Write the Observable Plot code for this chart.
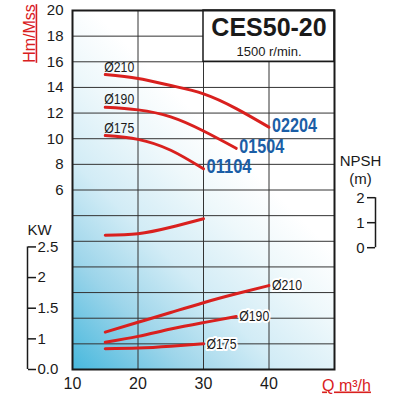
<!DOCTYPE html>
<html>
<head>
<meta charset="utf-8">
<script src="https://cdn.jsdelivr.net/npm/d3@7"></script>
<script src="https://cdn.jsdelivr.net/npm/@observablehq/plot@0.6"></script>
<style>
  body { margin: 0; background: white; }
</style>
</head>
<body>
<div id="chart"></div>
<script>
// flow Q (m3/h)
const qTicks = [10, 20, 30, 40]
const qGrid = [20, 30, 40]
// head H (m)
const headTicks = [6, 8, 10, 12, 14, 16, 18, 20]
const headGrid = [-8, -6, -4, -2, 0, 2, 4, 6, 8, 10, 12, 14, 16, 18, 20]
// power and NPSH axes
const kwTicks = [0.5, 1, 1.5, 2, 2.5]
const kwTickLabels = ["0.0", "1", "1.5", "2", "2.5"]
const npshTicks = [0, 1, 2]
const npshTickLabels = ["0", "1", "2"]

// impellers
const diameters = ["Ø210", "Ø190", "Ø175"]
const models = ["02204", "01504", "01104"]
const q210 = [15, 20, 25, 30, 35, 40]
const q190 = [15, 20, 25, 30, 35]
const q175 = [15, 20, 25, 30]
const head210 = [15.0, 14.7, 14.15, 13.5, 12.35, 10.9]
const head190 = [12.45, 12.25, 11.7, 10.6, 9.25]
const head175 = [10.25, 9.95, 9.1, 7.65]
const kw210 = [1.11, 1.27, 1.43, 1.59, 1.735, 1.87]
const kw190 = [0.945, 1.04, 1.16, 1.265, 1.365]
const kw175 = [0.84, 0.85, 0.88, 0.92]
const qNpsh = [15, 20, 25, 30]
const npsh = [0.5, 0.56, 0.82, 1.16]

// kW and NPSH are drawn on the head scale
const kwToHead = v => -8 + (v - 0.5) * 4.78
const npshToHead = v => 1.5 + v * 1.95

const curves = [
  {d: diameters[0], m: models[0], q: q210, head: head210, kw: kw210},
  {d: diameters[1], m: models[1], q: q190, head: head190, kw: kw190},
  {d: diameters[2], m: models[2], q: q175, head: head175, kw: kw175}
]
const headRows = curves.flatMap(c => c.q.map((q, i) => ({d: c.d, q, y: c.head[i]})))
const kwRows = curves.flatMap(c => c.q.map((q, i) => ({d: c.d, q, y: kwToHead(c.kw[i])})))
const npshRows = qNpsh.map((q, i) => ({q, y: npshToHead(npsh[i])}))
const headStarts = curves.map(c => ({d: c.d, q: c.q[0], y: c.head[0]}))
const headEnds = curves.map(c => ({m: c.m, q: c.q[c.q.length - 1], y: c.head[c.head.length - 1]}))
const kwEnds = curves.map(c => ({d: c.d, q: c.q[c.q.length - 1], y: kwToHead(c.kw[c.kw.length - 1])}))

const kwLabelAt = new Map(kwTicks.map((t, i) => [kwToHead(t), kwTickLabels[i]]))
const npshLabelAt = new Map(npshTicks.map((t, i) => [npshToHead(t), npshTickLabels[i]]))

const red = "#d9201e"
const blue = "#1b5ea6"
const ink = "#1a1a1a"

let chart = Plot.plot({
  width: 400,
  height: 400,
  marginLeft: 72,
  marginRight: 66,
  marginTop: 10,
  marginBottom: 31,
  x: {domain: [10, 50]},
  y: {domain: [-8, 20]},
  style: {
    fontFamily: "'Liberation Sans', Arial, sans-serif",
    fontSize: "14px",
    color: ink,
    background: "white"
  },
  marks: [
    Plot.frame({fill: "url(#bg)"}),
    Plot.gridX(qGrid, {stroke: "#333", strokeOpacity: 1}),
    Plot.gridY(headGrid, {stroke: "#333", strokeOpacity: 1}),
    Plot.rect([0], {x1: 30, x2: 50, y1: 16, y2: 20, fill: "white", stroke: ink, strokeWidth: 1.5}),
    Plot.text(["CES50-20"], {x: 40, frameAnchor: "top", dy: 25, textAnchor: "middle", lineAnchor: "bottom", fontSize: 25, fontWeight: "bold"}),
    Plot.text(["1500 r/min."], {x: 40, frameAnchor: "top", dy: 45, textAnchor: "middle", lineAnchor: "bottom", fontSize: 13}),

    // curves
    Plot.line(headRows, {x: "q", y: "y", z: "d", stroke: red, strokeWidth: 3, curve: "natural"}),
    Plot.line(npshRows, {x: "q", y: "y", stroke: red, strokeWidth: 3, curve: "natural"}),
    Plot.line(kwRows, {x: "q", y: "y", z: "d", stroke: red, strokeWidth: 3, curve: "natural"}),

    // curve labels
    Plot.text(headStarts, {x: "q", y: "y", text: "d", textAnchor: "start", lineAnchor: "bottom", dx: -1, dy: -3, fontSize: 15}),
    Plot.text(headEnds, {x: "q", y: "y", text: "m", textAnchor: "start", dx: 3, dy: -2, fill: blue, fontWeight: "bold", fontSize: 20}),
    Plot.text(kwEnds, {x: "q", y: "y", text: "d", textAnchor: "start", dx: 3, fontSize: 15, stroke: "white", strokeWidth: 4, fill: ink}),

    // main axes
    Plot.axisX(qTicks, {tickSize: 0, tickPadding: 8, fontSize: 16, label: null}),
    Plot.axisY(headTicks, {tickSize: 0, tickPadding: 9, fontSize: 15, label: null}),

    // kW axis (left bracket)
    Plot.ruleX([10], {y1: kwToHead(0.5), y2: kwToHead(2.5), dx: -45, stroke: ink, strokeWidth: 1.5}),
    Plot.axisY(kwTicks.map(kwToHead), {anchor: "right", frameAnchor: "left", dx: -45, tickSize: 8, tickPadding: 2, strokeWidth: 1.5, fontSize: 15, tickFormat: d => kwLabelAt.get(d), label: null}),
    Plot.text(["KW"], {y: kwToHead(2.5), frameAnchor: "left", dx: -45, dy: -12, textAnchor: "start", lineAnchor: "bottom", fontSize: 15}),

    // NPSH axis (right bracket)
    Plot.ruleX([50], {y1: npshToHead(0), y2: npshToHead(2), dx: 41, stroke: ink, strokeWidth: 1.5}),
    Plot.axisY(npshTicks.map(npshToHead), {anchor: "left", frameAnchor: "right", dx: 41, tickSize: 8, tickPadding: 3, strokeWidth: 1.5, fontSize: 15, tickFormat: d => npshLabelAt.get(d), label: null}),
    Plot.text(["NPSH"], {y: npshToHead(2), frameAnchor: "right", dx: 26, dy: -32, textAnchor: "middle", lineAnchor: "bottom", fontSize: 15}),
    Plot.text(["(m)"], {y: npshToHead(2), frameAnchor: "right", dx: 26, dy: -14, textAnchor: "middle", lineAnchor: "bottom", fontSize: 15}),

    // axis titles
    Plot.text(["Hm/Mss"], {frameAnchor: "top-left", dx: -43, dy: 23, rotate: -90, textAnchor: "middle", lineAnchor: "middle", fill: red, fontSize: 16}),
    Plot.text(["Q m³/h"], {frameAnchor: "bottom-right", dx: 12, dy: 21, textAnchor: "middle", lineAnchor: "bottom", fill: red, fontSize: 16}),

    Plot.frame({stroke: ink, strokeWidth: 2})
  ]
})

const svg = d3.select(chart)
const grad = svg.insert("defs", ":first-child")
  .append("linearGradient")
  .attr("id", "bg")
  .attr("gradientUnits", "userSpaceOnUse")
  .attr("x1", 72).attr("y1", 369)
  .attr("x2", 262).attr("y2", 179)
grad.selectAll("stop")
  .data([[0, "#47b8dd"], [0.3, "#9dd5ea"], [0.55, "#d2ecf6"], [0.8, "#eef8fb"], [1, "#ffffff"]])
  .join("stop")
  .attr("offset", d => d[0])
  .attr("stop-color", d => d[1])

svg.selectAll("text")
  .filter(function () { return this.textContent === "Hm/Mss" || this.textContent === "Q m³/h" })
  .style("text-decoration", "underline")

// condensed lettering of the original
svg.selectAll("text")
  .filter(function () { return models.includes(this.textContent) })
  .attr("textLength", 45).attr("lengthAdjust", "spacingAndGlyphs")
svg.selectAll("text")
  .filter(function () { return diameters.includes(this.textContent) })
  .attr("textLength", 30).attr("lengthAdjust", "spacingAndGlyphs")

d3.select("#chart").append(() => chart)
</script>
</body>
</html>
